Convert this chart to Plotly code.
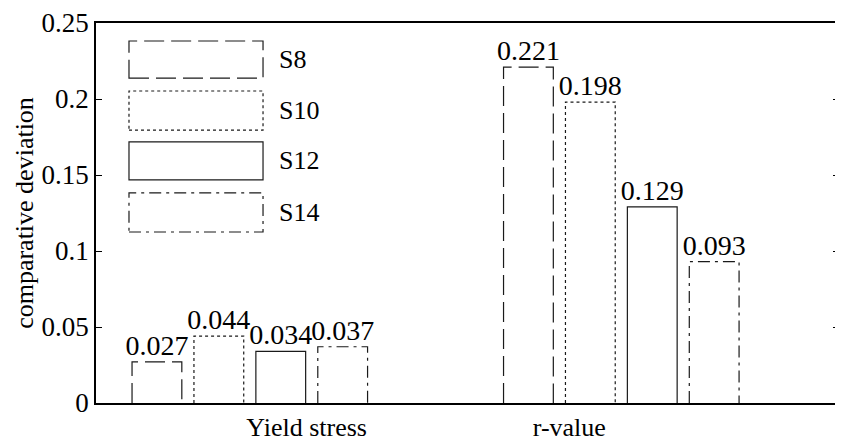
import plotly.graph_objects as go

# ---- data ----
categories = ["Yield stress", "r-value"]
series_names = ["S8", "S10", "S12", "S14"]
S8 = [0.027, 0.221]
S10 = [0.044, 0.198]
S12 = [0.034, 0.129]
S14 = [0.037, 0.093]
y_tick_values = [0, 0.05, 0.1, 0.15, 0.2, 0.25]
y_tick_labels = ["0", "0.05", "0.1", "0.15", "0.2", "0.25"]

# ---- layout / style ----
series_values = [S8, S10, S12, S14]
dashes = ["20px,7px", "3px,3px", "solid", "12px,5px,3px,5px"]
group_pos = [1.0, 2.0]
label_pos = [1.153, 1.860]
slot = 1 / 6
half_w = 0.067
FONT = "Liberation Serif, Times New Roman, serif"
LINE = "#1a1a1a"

fig = go.Figure()
for i, (name, vals) in enumerate(zip(series_names, series_values)):
    off = (i - 1.5) * slot
    xs, ys, cx = [], [], []
    for g, v in zip(group_pos, vals):
        c = g + off
        cx.append(c)
        xs += [c - half_w, c - half_w, c + half_w, c + half_w, None]
        ys += [0, v, v, 0, None]
    fig.add_trace(go.Scatter(x=xs, y=ys, mode="lines", name=name,
                             line=dict(color=LINE, width=1.2, dash=dashes[i]),
                             showlegend=False, hoverinfo="skip"))
    fig.add_trace(go.Scatter(x=cx, y=vals, mode="text",
                             text=[f"{v:.3f}" for v in vals],
                             textposition="top center",
                             textfont=dict(family=FONT, size=28, color="black"),
                             showlegend=False, hoverinfo="skip"))

# custom legend boxes
box_x = (0.0444, 0.2248)
box_y = [(0.855, 0.9526), (0.718, 0.821), (0.587, 0.687), (0.45, 0.553)]
for i, name in enumerate(series_names):
    y0, y1 = box_y[i]
    fig.add_shape(type="rect", xref="paper", yref="paper",
                  x0=box_x[0], x1=box_x[1], y0=y0, y1=y1,
                  line=dict(color=LINE, width=1.2, dash=dashes[i]),
                  fillcolor="rgba(0,0,0,0)")
    fig.add_annotation(xref="paper", yref="paper", x=0.2436, y=(y0 + y1) / 2,
                       text=name, showarrow=False, xanchor="left", yanchor="middle",
                       font=dict(family=FONT, size=26, color="black"))

# page body has an 8px default margin, so the figure is offset by 8px
fig.update_layout(
    width=835, height=435,
    margin=dict(l=88, r=4, t=15, b=40, autoexpand=False),
    paper_bgcolor="white", plot_bgcolor="white",
    font=dict(family=FONT, size=26, color="black"),
    xaxis=dict(range=[0.586, 2.586], showgrid=False, zeroline=False,
               showline=True, linecolor="black", linewidth=1.5, mirror=True,
               ticks="", tickvals=label_pos, ticktext=categories,
               ticklabelstandoff=0, automargin=False,
               tickfont=dict(family=FONT, size=26, color="black")),
    yaxis=dict(range=[0, 0.25], showgrid=False, zeroline=False,
               showline=True, linecolor="black", linewidth=1.5, mirror="ticks",
               ticks="inside", ticklen=6, tickcolor="black",
               tickvals=y_tick_values, ticktext=y_tick_labels, automargin=False,
               tickfont=dict(family=FONT, size=27, color="black"),
               title=dict(text="comparative deviation", standoff=0,
                          font=dict(family=FONT, size=26, color="black"))),
)

fig.write_html("out.html")
